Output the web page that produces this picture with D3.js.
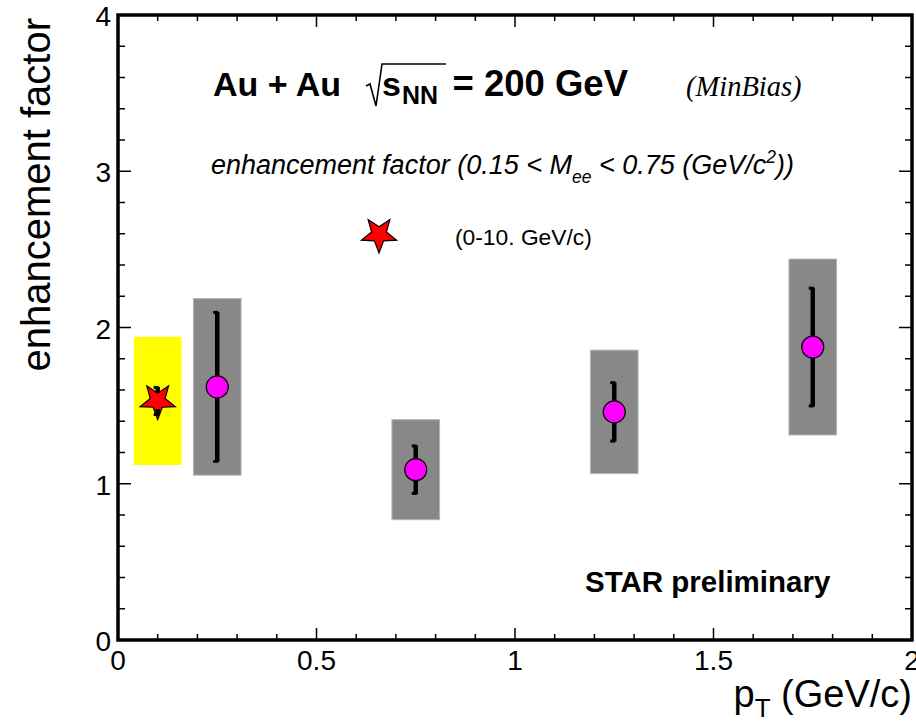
<!DOCTYPE html>
<html>
<head>
<meta charset="utf-8">
<script src="https://cdn.jsdelivr.net/npm/d3@7"></script>
<style>
  html, body { margin: 0; padding: 0; background: #fff; }
  svg { display: block; font-family: "Liberation Sans", Arial, Helvetica, sans-serif; }
</style>
</head>
<body>
<svg id="chart" width="916" height="726"></svg>
<script>
// Minimum-bias Au+Au dielectron enhancement factor vs pair pT
const ptBins      = [0.25, 0.75, 1.25, 1.75];
const enhancement = [1.62, 1.09, 1.46, 1.875];
const statErr     = [0.48, 0.155, 0.19, 0.38];
const sysErr      = [0.565, 0.32, 0.395, 0.563];

// pT-integrated (0-10 GeV/c) value
const ptIntegrated   = [0.1];
const enhIntegrated  = [1.53];
const statIntegrated = [0.09];
const sysIntegrated  = [0.41];

const sysHalfWidth = 0.06;   // half width of the systematic boxes in pT
const xTicks = [0, 0.5, 1, 1.5, 2];
const yTicks = [0, 1, 2, 3, 4];

const svg = d3.select("#chart");
const L = 118, R = 912, T = 15, B = 640;
const x = d3.scaleLinear().domain([0, 2]).range([L, R]);
const y = d3.scaleLinear().domain([0, 4]).range([B, T]);

// five-pointed star pointing downwards
function starPath(cx, cy, rOut, rIn) {
  const pts = [];
  for (let i = 0; i < 10; i++) {
    const r = i % 2 === 0 ? rOut : rIn;
    const a = Math.PI / 2 + i * Math.PI / 5; // first tip straight down
    pts.push([cx + r * Math.cos(a), cy + r * Math.sin(a)]);
  }
  return "M" + pts.map(p => p[0].toFixed(2) + "," + p[1].toFixed(2)).join("L") + "Z";
}

const gData = svg.append("g");

// systematic boxes
gData.selectAll("rect.sysInt").data(ptIntegrated).join("rect")
  .attr("class", "sysInt")
  .attr("x", d => x(d - sysHalfWidth))
  .attr("width", d => x(d + sysHalfWidth) - x(d - sysHalfWidth))
  .attr("y", (d, i) => y(enhIntegrated[i] + sysIntegrated[i]))
  .attr("height", (d, i) => y(enhIntegrated[i] - sysIntegrated[i]) - y(enhIntegrated[i] + sysIntegrated[i]))
  .attr("fill", "#ffff00");

gData.selectAll("rect.sys").data(ptBins).join("rect")
  .attr("class", "sys")
  .attr("x", d => x(d - sysHalfWidth))
  .attr("width", d => x(d + sysHalfWidth) - x(d - sysHalfWidth))
  .attr("y", (d, i) => y(enhancement[i] + sysErr[i]))
  .attr("height", (d, i) => y(enhancement[i] - sysErr[i]) - y(enhancement[i] + sysErr[i]))
  .attr("fill", "#888888")
  .attr("stroke", "#b4b4b4")
  .attr("stroke-width", 1);

// statistical error bars, drawn outside the marker
const circleR = 11;
function errBar(g, px, val, err, gap) {
  const cx = x(px), cy = y(val), top = y(val + err), bot = y(val - err);
  const path = d3.path();
  if (cy - top > gap) { path.moveTo(cx, top); path.lineTo(cx, cy - gap); }
  if (bot - cy > gap) { path.moveTo(cx, cy + gap); path.lineTo(cx, bot); }
  g.append("path").attr("d", path.toString())
    .attr("stroke", "#000").attr("stroke-width", 4.5).attr("fill", "none");
  // small end caps
  g.append("rect").attr("x", cx - 4).attr("y", top - 1).attr("width", 5).attr("height", 3).attr("fill", "#000");
  g.append("rect").attr("x", cx - 4).attr("y", bot - 2).attr("width", 5).attr("height", 3).attr("fill", "#000");
}

ptBins.forEach((p, i) => errBar(gData, p, enhancement[i], statErr[i], circleR));

gData.selectAll("circle.pt").data(ptBins).join("circle")
  .attr("class", "pt")
  .attr("cx", d => x(d))
  .attr("cy", (d, i) => y(enhancement[i]))
  .attr("r", circleR)
  .attr("fill", "#ff00ff")
  .attr("stroke", "#000")
  .attr("stroke-width", 1.2);

const starR = 18.5, starRin = 7.8;
gData.selectAll("path.star").data(ptIntegrated).join("path")
  .attr("class", "star")
  .attr("d", (d, i) => starPath(x(d), y(enhIntegrated[i]), starR, starRin))
  .attr("fill", "#ff0000")
  .attr("stroke", "#000")
  .attr("stroke-width", 1.2);
ptIntegrated.forEach((p, i) => errBar(gData, p, enhIntegrated[i], statIntegrated[i], 8));

// frame with ticks on all four sides
const gAx = svg.append("g");
const xMinor = d3.range(0, 2.0001, 0.1);
const yMinor = d3.range(0, 4.0001, 0.2);
const isMajor = (v, step) => Math.abs(v / step - Math.round(v / step)) < 1e-6;

xMinor.forEach(v => {
  const len = isMajor(v, 0.5) ? 12 : 6;
  gAx.append("line").attr("x1", x(v)).attr("x2", x(v)).attr("y1", B).attr("y2", B - len);
  gAx.append("line").attr("x1", x(v)).attr("x2", x(v)).attr("y1", T).attr("y2", T + len);
});
yMinor.forEach(v => {
  const len = isMajor(v, 1) ? 13 : 7;
  gAx.append("line").attr("y1", y(v)).attr("y2", y(v)).attr("x1", L).attr("x2", L + len);
  gAx.append("line").attr("y1", y(v)).attr("y2", y(v)).attr("x1", R).attr("x2", R - len);
});
gAx.selectAll("line").attr("stroke", "#000").attr("stroke-width", 1.5);
gAx.append("rect").attr("x", L).attr("y", T).attr("width", R - L).attr("height", B - T)
  .attr("fill", "none").attr("stroke", "#000").attr("stroke-width", 3.5);

// tick labels (the last one runs off the right edge of the canvas)
svg.selectAll("text.xt").data(xTicks).join("text")
  .attr("class", "xt")
  .attr("x", d => x(d)).attr("y", 670)
  .attr("text-anchor", "middle").attr("font-size", 28)
  .text(d => d3.format("~g")(d));
svg.selectAll("text.yt").data(yTicks).join("text")
  .attr("class", "yt")
  .attr("x", 111).attr("y", d => y(d) + 11)
  .attr("text-anchor", "end").attr("font-size", 28)
  .text(d => d);

// axis titles
svg.append("text")
  .attr("transform", "translate(50,18) rotate(-90)")
  .attr("text-anchor", "end").attr("font-size", 40)
  .text("enhancement factor");
const xt = svg.append("text").attr("x", 912).attr("y", 707).attr("text-anchor", "end").attr("font-size", 38);
xt.append("tspan").text("p");
xt.append("tspan").attr("font-size", 26).attr("dy", 10).text("T");
xt.append("tspan").attr("dy", -10).text(" (GeV/c)");

// collision system header
svg.append("text").attr("x", 213).attr("y", 96).attr("font-size", 34).attr("font-weight", "bold").text("Au + Au");
svg.append("path")
  .attr("d", "M366,86 L370,84 L376,106 L382,64 L446,64")
  .attr("fill", "none").attr("stroke", "#000").attr("stroke-width", 1.6);
svg.append("text").attr("x", 382).attr("y", 96).attr("font-size", 34).attr("font-weight", "bold").text("s");
svg.append("text").attr("x", 402).attr("y", 104).attr("font-size", 25).attr("font-weight", "bold").text("NN");
svg.append("text").attr("x", 628).attr("y", 96).attr("text-anchor", "end").attr("font-size", 36.5).attr("font-weight", "bold").text("= 200 GeV");
svg.append("text").attr("x", 686).attr("y", 96).attr("font-size", 28.5).attr("font-style", "italic")
  .attr("font-family", "'Liberation Serif', 'Times New Roman', serif").text("(MinBias)");

// legend
const lg = svg.append("text").attr("x", 211).attr("y", 174).attr("font-size", 27).attr("font-style", "italic");
lg.append("tspan").text("enhancement factor (0.15 < M");
lg.append("tspan").attr("font-size", 17.5).attr("dy", 9).text("ee");
lg.append("tspan").attr("dy", -9).text(" < 0.75 (GeV/c");
lg.append("tspan").attr("font-size", 17.5).attr("dy", -11).text("2");
lg.append("tspan").attr("dy", 11).text("))");

svg.append("path").attr("d", starPath(379, 234.5, starR, starRin))
  .attr("fill", "#ff0000").attr("stroke", "#000").attr("stroke-width", 1.2);
svg.append("text").attr("x", 455).attr("y", 245).attr("font-size", 22.8).text("(0-10. GeV/c)");

svg.append("text").attr("x", 585).attr("y", 592).attr("font-size", 29.5).attr("font-weight", "bold").text("STAR preliminary");
</script>
</body>
</html>
